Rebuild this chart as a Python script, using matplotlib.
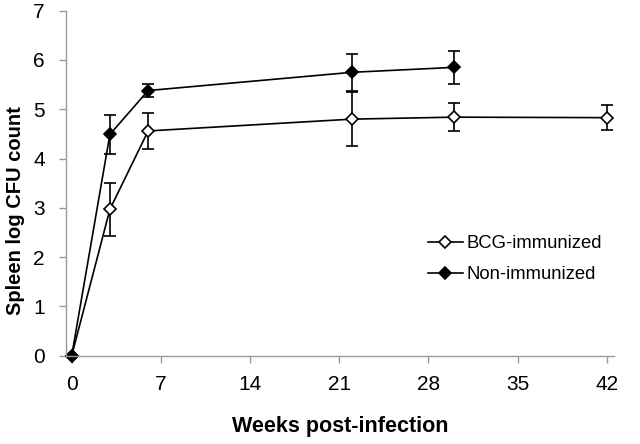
import numpy as np
import matplotlib
matplotlib.use("Agg")
import matplotlib.pyplot as plt
from matplotlib.lines import Line2D

plt.rcParams["font.family"] = ["Liberation Sans", "DejaVu Sans"]

# weeks post-infection and spleen log CFU (mean, error)
weeks_bcg = [0, 3, 6, 22, 30, 42]
cfu_bcg = [0, 2.97, 4.56, 4.80, 4.84, 4.83]
err_bcg = [0, 0.54, 0.36, 0.55, 0.29, 0.26]

weeks_non = [0, 3, 6, 22, 30]
cfu_non = [0, 4.49, 5.38, 5.75, 5.85]
err_non = [0, 0.39, 0.13, 0.38, 0.33]

xticks = [0, 7, 14, 21, 28, 35, 42]
yticks = [0, 1, 2, 3, 4, 5, 6, 7]

fig = plt.figure(figsize=(6.4, 4.44), dpi=100)
ax = fig.add_axes([65.7 / 640, 1 - 355.7 / 444, (614 - 65.7) / 640, 345 / 444])

line_kw = dict(color="black", lw=1.2, marker="D", markersize=6.5,
               markeredgecolor="black", markeredgewidth=1.2, clip_on=False)
err_kw = dict(fmt="none", ecolor="black", elinewidth=1.2, capsize=4.5, capthick=1.2)


def draw_series(x, y, e, face, label):
    x, y, e = np.asarray(x), np.asarray(y), np.asarray(e)
    has_err = e > 0
    ax.errorbar(x[has_err], y[has_err], yerr=e[has_err], **err_kw)
    ax.plot(x, y, markerfacecolor=face, label=label, **line_kw)


draw_series(weeks_bcg, cfu_bcg, err_bcg, "white", "BCG-immunized")
draw_series(weeks_non, cfu_non, err_non, "black", "Non-immunized")

ax.set_xlim(-0.47, 42.57)
ax.set_ylim(0, 7)
ax.set_xticks(xticks)
ax.set_yticks(yticks)
ax.spines["top"].set_visible(False)
ax.spines["right"].set_visible(False)
for s in ("left", "bottom"):
    ax.spines[s].set_color("#999999")
    ax.spines[s].set_linewidth(1.0)
ax.tick_params(axis="both", colors="#999999", labelcolor="black",
               labelsize=15, length=5, width=1.0)
ax.tick_params(axis="x", pad=9)
ax.tick_params(axis="y", pad=10)

ax.set_xlabel("Weeks post-infection", fontsize=15.5, fontweight="bold")
ax.set_ylabel("Spleen log CFU count", fontsize=14.5, fontweight="bold")
ax.xaxis.set_label_coords(0.5, -0.175)
ax.yaxis.set_label_coords(-0.074, 0.42)

handles = [
    Line2D([], [], color="black", lw=1.2, marker="D", markersize=6,
           markerfacecolor="white", markeredgecolor="black", markeredgewidth=1.2),
    Line2D([], [], color="black", lw=1.2, marker="D", markersize=6,
           markerfacecolor="black", markeredgecolor="black", markeredgewidth=1.2),
]
ax.legend(handles, ["BCG-immunized", "Non-immunized"], loc="center left",
          bbox_to_anchor=(0.66, 0.28), frameon=False, fontsize=13.3,
          handlelength=1.9, handletextpad=0.2, labelspacing=0.75,
          borderpad=0, borderaxespad=0)

fig.savefig("out.png", dpi=100)
